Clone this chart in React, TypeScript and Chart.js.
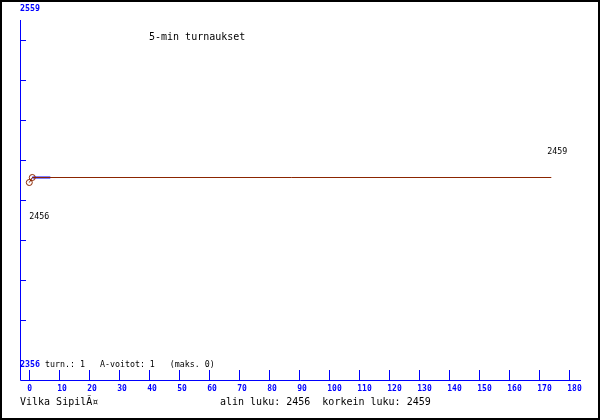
import { useEffect, useRef } from "react";
import { Chart, registerables } from "chart.js";

Chart.register(...registerables);

// ---- data ----
const turnNumbers = [0, 1, 174];
const ratingValues = [2456, 2459, 2459];
const winTurnNumbers = [1, 7];
const winValues = [2459, 2459];
const xTickValues = [0, 10, 20, 30, 40, 50, 60, 70, 80, 90, 100, 110, 120, 130, 140, 150, 160, 170, 180];
const yTickValues = [2541.5, 2517.5, 2493.5, 2469.5, 2445.5, 2421.5, 2397.5, 2373.5];
const yTopLabel = "2559";
const yBottomLabel = "2356";
const titleText = "5-min turnaukset";
const playerName = "Vilka SipilÃ¤";
const lowText = "alin luku: 2456";
const highText = "korkein luku: 2459";
const statsText = " turn.: 1   A-voitot: 1   (maks. 0)";
const minLabel = "2456";
const maxLabel = "2459";

const X_MIN = -3.1;
const X_MAX = 183.9;
const Y_MIN = 2337.5;
const Y_MAX = 2553.5;

const BLUE = "#0000ff";
const BROWN = "#8b2500";
const MONO = "'DejaVu Sans Mono', 'Liberation Mono', monospace";

const overlay = {
  id: "overlay",
  beforeDraw(chart: any) {
    const { ctx, width, height } = chart;
    ctx.save();
    ctx.fillStyle = "#ffffff";
    ctx.fillRect(0, 0, width, height);
    ctx.restore();
  },
  afterDraw(chart: any) {
    const { ctx, chartArea, width, height } = chart;
    const xs = chart.scales.x;
    const ys = chart.scales.y;
    ctx.save();
    // frame
    ctx.strokeStyle = "#000000";
    ctx.lineWidth = 2;
    ctx.strokeRect(1, 1, width - 2, height - 2);

    // axes
    ctx.strokeStyle = BLUE;
    ctx.lineWidth = 1;
    ctx.beginPath();
    ctx.moveTo(chartArea.left + 0.5, chartArea.top);
    ctx.lineTo(chartArea.left + 0.5, chartArea.bottom + 0.5);
    ctx.lineTo(chartArea.right, chartArea.bottom + 0.5);
    ctx.stroke();

    // y ticks (inward)
    ctx.beginPath();
    for (const v of yTickValues) {
      const py = Math.round(ys.getPixelForValue(v)) + 0.5;
      ctx.moveTo(chartArea.left, py);
      ctx.lineTo(chartArea.left + 6, py);
    }
    ctx.stroke();

    // x ticks (upward) and labels
    ctx.beginPath();
    for (const v of xTickValues) {
      const px = Math.round(xs.getPixelForValue(v)) + 0.5;
      ctx.moveTo(px, chartArea.bottom);
      ctx.lineTo(px, chartArea.bottom - 10);
    }
    ctx.stroke();

    ctx.fillStyle = BLUE;
    ctx.font = `bold 8px ${MONO}`;
    ctx.textBaseline = "middle";
    ctx.textAlign = "left";
    for (const v of xTickValues) {
      const px = xs.getPixelForValue(v);
      ctx.fillText(String(v), px - 2, chartArea.bottom + 9);
    }

    // y extreme labels
    ctx.font = `bold 8.3px ${MONO}`;
    ctx.fillText(yTopLabel, chartArea.left, 9);
    ctx.fillText(yBottomLabel, chartArea.left, chartArea.bottom - 15.5);
    const w = ctx.measureText(yBottomLabel).width;
    ctx.fillStyle = "#000000";
    ctx.font = `8.3px ${MONO}`;
    ctx.fillText(statsText, chartArea.left + w, chartArea.bottom - 15.5);

    // min / max labels near data
    const firstX = xs.getPixelForValue(turnNumbers[0]);
    const firstY = ys.getPixelForValue(ratingValues[0]);
    ctx.fillText(minLabel, firstX, firstY + 34.5);
    const lastI = turnNumbers.length - 1;
    const lastX = xs.getPixelForValue(turnNumbers[lastI]);
    const lastY = ys.getPixelForValue(ratingValues[lastI]);
    ctx.fillText(maxLabel, lastX - 4, lastY - 25.5);

    // title and footer
    ctx.font = `10px ${MONO}`;
    ctx.fillText(titleText, 149, 37.5);
    ctx.fillText(playerName, chartArea.left, 402);
    ctx.fillText(lowText + "  " + highText, 220, 402);
    ctx.restore();
  },
};

export default function App() {
  const ref = useRef<HTMLCanvasElement>(null);
  useEffect(() => {
    if (!ref.current) return;
    const chart = new Chart(ref.current, {
      type: "line",
      data: {
        datasets: [
          {
            label: "rating",
            data: turnNumbers.map((t, i) => ({ x: t, y: ratingValues[i] })),
            borderColor: BROWN,
            borderWidth: 1,
            pointRadius: turnNumbers.map((_, i) => (i < 2 ? 3 : 0)),
            pointBorderColor: BROWN,
            pointBackgroundColor: "rgba(0,0,0,0)",
            pointBorderWidth: 1,
            tension: 0,
            order: 1,
          },
          {
            label: "A-voitot",
            data: winTurnNumbers.map((t, i) => ({ x: t, y: winValues[i] })),
            borderColor: BLUE,
            borderWidth: 2,
            pointRadius: 0,
            tension: 0,
            order: 2,
          },
        ],
      },
      options: {
        animation: false,
        responsive: false,
        maintainAspectRatio: false,
        layout: { padding: { left: 20, top: 20, right: 19, bottom: 40 } },
        plugins: { legend: { display: false }, tooltip: { enabled: false } },
        scales: {
          x: { type: "linear", min: X_MIN, max: X_MAX, display: false },
          y: { type: "linear", min: Y_MIN, max: Y_MAX, display: false },
        },
      },
      plugins: [overlay],
    });
    return () => chart.destroy();
  }, []);
  return (
    <div style={{ position: "absolute", left: 0, top: 0, width: 600, height: 420 }}>
      <canvas ref={ref} width={600} height={420} style={{ width: 600, height: 420, display: "block" }} />
    </div>
  );
}
